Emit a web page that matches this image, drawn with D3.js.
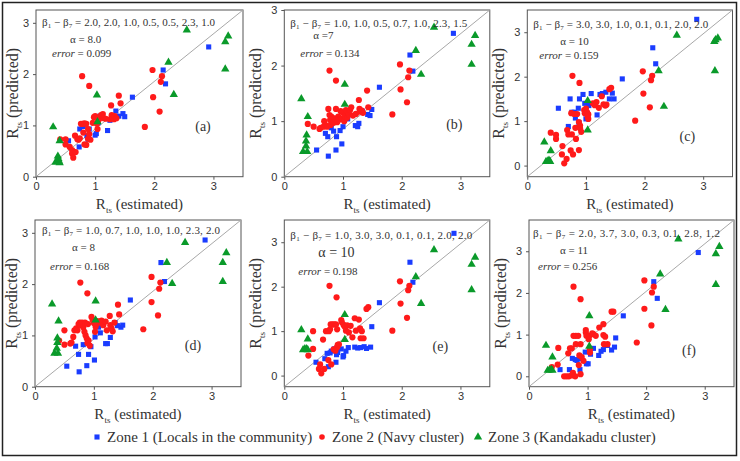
<!DOCTYPE html>
<html>
<head>
<meta charset="utf-8">
<script src="https://cdn.jsdelivr.net/npm/d3@7"></script>
<style>
  body { margin: 0; background: #fff; }
  svg text { fill: #333; }
</style>
</head>
<body>
<svg id="chart" width="740" height="461"></svg>
<script>
// ---- data: [R_ts estimated, R_ts predicted] for each zone and panel ----
var xTicks = [0, 1, 2, 3];
var zoneNames = ['Zone 1 (Locals in the community)', 'Zone 2 (Navy cluster)', 'Zone 3 (Kandakadu cluster)'];

var blueA = [[0.55,0.70],[0.73,0.58],[0.74,0.93],[0.80,0.98],[0.86,0.80],[0.88,0.73],[0.90,0.93],[1.00,0.81],[1.02,0.84],[1.05,1.05],[1.08,1.18],[1.21,0.90],[1.25,1.10],[1.35,1.28],[1.40,1.18],[1.47,1.23],[1.50,1.17],[1.63,1.55],[2.15,2.08],[2.19,1.81],[2.92,2.53]];
var redA = [[0.78,1.96],[0.90,1.77],[0.41,0.73],[0.50,0.73],[0.50,0.63],[0.57,0.58],[0.61,0.52],[0.61,0.45],[0.63,0.37],[0.67,0.48],[0.66,0.80],[0.70,0.73],[0.72,0.72],[0.74,0.75],[0.76,1.03],[0.79,1.03],[0.82,1.04],[0.85,1.03],[0.80,0.86],[0.82,0.63],[0.85,0.62],[0.88,0.93],[0.88,0.74],[0.90,0.83],[0.92,0.72],[0.96,1.05],[0.98,1.16],[1.00,1.18],[1.03,1.03],[1.04,0.93],[1.05,1.08],[1.08,1.14],[1.10,1.20],[1.13,1.22],[1.15,1.14],[1.18,1.13],[1.25,1.12],[1.27,1.39],[1.28,1.20],[1.30,1.15],[1.32,1.12],[1.33,1.18],[1.36,1.14],[1.40,1.58],[1.43,1.43],[1.84,0.97],[1.97,2.08],[1.98,1.55],[2.09,1.27],[2.11,1.85],[2.13,1.96]];
var greenA = [[0.29,0.97],[0.40,0.70],[0.37,0.40],[0.38,0.35],[0.33,0.28],[0.36,0.30],[0.39,0.30],[0.40,0.27],[1.03,1.59],[1.04,1.07],[2.24,2.23],[2.33,1.60],[2.55,2.86],[3.20,2.63],[3.20,2.10],[3.25,2.74]];

var blueB = [[0.55,0.48],[0.70,0.78],[0.74,0.72],[0.75,0.37],[0.80,0.88],[0.84,0.82],[0.88,0.48],[0.89,0.72],[0.95,0.83],[0.98,0.59],[1.00,0.90],[1.08,1.04],[1.21,0.92],[1.25,0.90],[1.27,0.96],[1.33,1.18],[1.42,1.12],[1.46,1.10],[1.49,1.21],[1.62,1.61],[2.14,2.19],[2.19,1.90],[2.88,2.58]];
var redB = [[0.77,1.91],[0.88,1.73],[0.40,0.95],[0.50,0.90],[0.60,0.86],[0.62,0.88],[0.67,0.90],[0.68,1.00],[0.70,0.93],[0.73,0.90],[0.75,1.22],[0.77,1.11],[0.78,1.02],[0.79,0.93],[0.80,1.08],[0.82,1.05],[0.84,0.97],[0.86,1.05],[0.88,1.22],[0.90,0.98],[0.92,1.08],[0.94,1.03],[0.96,1.18],[0.98,1.04],[1.00,1.15],[1.02,1.00],[1.03,1.09],[1.05,1.20],[1.07,1.06],[1.10,1.12],[1.12,1.20],[1.14,1.25],[1.17,1.10],[1.22,1.13],[1.27,1.38],[1.28,1.22],[1.30,1.17],[1.32,1.19],[1.34,1.15],[1.41,1.55],[1.43,1.25],[1.84,1.12],[1.97,2.02],[1.98,1.57],[2.09,1.34],[2.11,1.79],[2.13,1.91]];
var greenB = [[0.29,1.40],[0.40,1.08],[0.38,0.75],[0.37,0.64],[0.37,0.55],[0.32,0.45],[0.39,0.45],[1.03,1.66],[1.03,1.30],[2.24,2.27],[2.33,1.84],[2.55,2.69],[3.19,2.38],[3.19,2.02],[3.25,2.54]];

var blueC = [[0.53,1.29],[0.70,0.88],[0.73,1.50],[0.76,1.20],[0.80,1.20],[0.82,1.07],[0.87,1.29],[0.88,0.97],[0.89,1.50],[0.95,1.60],[0.98,1.40],[1.00,1.05],[1.05,1.35],[1.09,1.62],[1.19,1.14],[1.24,1.60],[1.28,1.62],[1.34,1.65],[1.40,1.50],[1.45,1.63],[1.48,1.50],[1.62,1.95],[2.14,2.65],[2.19,2.29],[2.89,3.29]];
var redC = [[0.77,2.02],[0.89,1.86],[0.40,0.74],[0.49,0.69],[0.49,0.60],[0.60,0.44],[0.59,0.25],[0.63,0.05],[0.67,0.15],[0.74,0.34],[0.78,0.25],[0.88,0.35],[0.83,0.60],[0.68,0.80],[0.70,0.70],[0.76,0.70],[0.75,1.18],[0.80,1.16],[0.82,0.85],[0.85,1.16],[0.88,0.98],[0.90,0.90],[0.90,0.84],[0.92,0.76],[0.97,1.25],[0.98,1.18],[1.00,1.28],[1.02,1.20],[1.03,1.10],[1.04,1.05],[1.04,1.15],[1.12,1.40],[1.15,1.36],[1.18,1.43],[1.22,1.30],[1.27,1.56],[1.30,1.38],[1.33,1.35],[1.35,1.37],[1.40,1.72],[1.43,1.75],[1.84,1.01],[1.97,2.12],[1.98,1.62],[2.09,1.31],[2.11,1.92],[2.13,2.02]];
var greenC = [[0.29,0.53],[0.40,0.33],[0.32,0.09],[0.35,0.10],[0.37,0.12],[0.39,0.09],[1.03,1.46],[1.03,0.80],[2.24,2.13],[2.33,1.33],[2.55,2.93],[3.19,2.79],[3.21,2.83],[3.25,2.87],[3.20,2.13]];

var blueD = [[0.54,0.40],[0.69,0.79],[0.74,0.63],[0.75,0.29],[0.82,0.82],[0.88,0.41],[0.91,0.63],[0.95,0.78],[1.01,0.52],[1.02,0.97],[1.08,1.16],[1.11,1.05],[1.20,0.84],[1.23,0.84],[1.28,0.96],[1.36,1.25],[1.40,1.19],[1.46,1.16],[1.49,1.20],[1.62,1.69],[2.14,2.42],[2.20,2.05],[2.89,2.86]];
var redD = [[0.77,2.03],[0.89,1.82],[0.41,0.90],[0.50,0.82],[0.50,1.10],[0.60,0.84],[0.62,0.86],[0.65,0.97],[0.67,1.10],[0.70,1.14],[0.72,1.10],[0.74,1.22],[0.76,1.25],[0.78,1.20],[0.80,1.25],[0.82,1.16],[0.84,1.07],[0.85,1.25],[0.86,1.00],[0.88,0.94],[0.89,0.85],[0.90,1.22],[0.91,0.90],[0.93,0.80],[0.96,1.36],[0.98,1.30],[1.00,1.24],[1.02,1.07],[1.03,1.17],[1.04,1.22],[1.06,1.28],[1.10,1.25],[1.13,1.29],[1.16,1.20],[1.20,1.27],[1.22,1.10],[1.27,1.38],[1.28,1.20],[1.30,1.14],[1.32,1.08],[1.35,1.25],[1.41,1.60],[1.43,1.41],[1.84,1.12],[1.98,2.14],[1.98,1.65],[2.09,1.39],[2.11,1.91],[2.13,2.03]];
var greenD = [[0.29,1.61],[0.40,1.28],[0.38,0.95],[0.38,0.86],[0.37,0.75],[0.33,0.65],[0.39,0.65],[1.03,1.67],[1.03,1.30],[2.24,2.42],[2.33,2.01],[2.55,2.81],[3.19,2.42],[3.19,2.05],[3.25,2.61]];

var blueE = [[0.54,0.30],[0.69,0.38],[0.73,0.50],[0.75,0.20],[0.78,0.51],[0.80,0.55],[0.85,0.60],[0.88,0.30],[0.89,0.47],[0.91,0.52],[0.97,0.60],[1.00,0.42],[1.01,0.45],[1.05,0.55],[1.09,0.63],[1.20,0.64],[1.25,0.62],[1.30,0.63],[1.36,0.65],[1.40,0.61],[1.47,0.64],[1.49,1.10],[1.62,1.64],[2.14,2.55],[2.19,2.10],[2.89,3.20]];
var redE = [[0.77,2.02],[0.89,1.76],[0.41,0.45],[0.49,0.60],[0.49,1.00],[0.59,0.15],[0.61,0.25],[0.63,0.05],[0.68,0.15],[0.66,0.81],[0.71,1.00],[0.75,0.35],[0.76,1.00],[0.78,1.04],[0.79,1.15],[0.80,0.25],[0.82,1.15],[0.84,0.59],[0.85,1.15],[0.87,0.56],[0.88,1.15],[0.90,0.64],[0.90,1.04],[0.91,0.69],[0.93,0.70],[0.97,1.25],[0.98,1.20],[1.01,1.14],[1.03,1.10],[1.05,1.01],[1.07,1.13],[1.10,0.97],[1.13,1.12],[1.16,0.86],[1.20,1.29],[1.22,1.01],[1.27,1.26],[1.29,1.06],[1.30,0.84],[1.32,1.00],[1.35,0.84],[1.40,1.50],[1.43,1.54],[1.84,1.01],[1.97,2.12],[1.98,1.62],[2.09,1.30],[2.11,1.92],[2.13,2.02]];
var greenE = [[0.29,1.03],[0.40,0.82],[0.32,0.58],[0.35,0.60],[0.38,0.60],[0.40,0.58],[1.03,1.37],[1.03,0.81],[2.24,2.22],[2.33,1.62],[2.55,2.83],[3.19,2.50],[3.19,1.93],[3.25,2.66]];

var blueF = [[0.53,0.16],[0.69,0.16],[0.74,0.43],[0.75,0.02],[0.79,0.40],[0.82,0.38],[0.87,0.16],[0.89,0.42],[0.96,0.58],[0.98,0.30],[1.01,0.30],[1.05,0.53],[1.10,0.67],[1.19,0.50],[1.23,0.60],[1.27,0.64],[1.34,0.74],[1.41,0.63],[1.46,0.70],[1.48,0.92],[1.61,1.45],[2.13,2.27],[2.19,1.87],[2.89,2.97]];
var redF = [[0.76,2.15],[0.88,1.85],[0.39,0.22],[0.49,0.28],[0.50,0.68],[0.60,0.00],[0.64,0.00],[0.68,0.00],[0.73,0.02],[0.75,0.08],[0.79,0.00],[0.88,0.05],[0.67,0.55],[0.70,0.67],[0.73,0.67],[0.76,0.97],[0.80,0.97],[0.84,0.97],[0.80,0.77],[0.88,0.77],[0.86,0.50],[0.90,0.46],[0.93,0.37],[0.85,0.27],[0.97,1.11],[0.97,1.05],[0.98,0.97],[1.03,0.97],[1.02,0.89],[1.04,0.65],[1.04,0.57],[1.08,1.03],[1.10,1.01],[1.14,0.97],[1.20,1.17],[1.27,1.25],[1.27,0.99],[1.30,0.95],[1.28,0.77],[1.34,0.77],[1.41,1.55],[1.44,1.55],[1.84,0.81],[1.97,2.30],[1.97,1.62],[2.09,1.22],[2.10,2.01],[2.13,2.15]];
var greenF = [[0.29,0.74],[0.40,0.46],[0.32,0.14],[0.35,0.15],[0.38,0.16],[0.40,0.14],[1.03,1.45],[1.03,0.72],[2.24,2.45],[2.33,1.60],[2.55,3.29],[3.19,2.94],[3.19,2.20],[3.25,3.11]];

var betas = ['2.0,  2.0,  1.0,  0.5,  0.5,  2.3,  1.0', '1.0,  1.0,  0.5,  0.7,  1.0,  2.3,  1.5', '3.0,  3.0,  1.0,  0.1,  0.1,  2.0,  2.0',
             '1.0,  0.7,  1.0,  1.0,  1.0,  2.3,  2.0', '1.0,  3.0,  3.0,  0.1,  0.1,  2.0,  2.0', '2.0,  3.7,  3.0,  0.3,  0.1,  2.8,  1.2'];
var alphas = ['= 8.0', '=7', '= 10', '= 8', '= 10', '= 11'];
var errors = ['0.099', '0.134', '0.159', '0.168', '0.198', '0.256'];

// ---- layout ----
var panels = [
  { label: '(a)', blue: blueA, red: redA, green: greenA, yDom: [0, 3.25], box: [36, 10, 243, 176.7],
    bPos: [6, 16, 173], aPos: [34, 33, 11], ePos: [16, 47], lPos: [167, 121], ylab: 23 },
  { label: '(b)', blue: blueB, red: redB, green: greenB, yDom: [0, 3], box: [284.3, 10, 489.8, 176.7],
    bPos: [6, 16.5, 177], aPos: [29, 29, 11], ePos: [16, 47], lPos: [170, 119], ylab: 28 },
  { label: '(c)', blue: blueC, red: redC, green: greenC, yDom: [-0.25, 3.5], box: [527.3, 10, 732.5, 176.7],
    bPos: [6, 17.5, 175], aPos: [33, 35, 11], ePos: [12, 49], lPos: [160, 131], ylab: 28 },
  { label: '(d)', blue: blueD, red: redD, green: greenD, yDom: [0, 3.25], box: [35, 220, 241, 386.7],
    bPos: [7, 14, 178], aPos: [37, 31, 11], ePos: [15, 50], lPos: [158, 130], ylab: 23 },
  { label: '(e)', blue: blueE, red: redE, green: greenE, yDom: [-0.25, 3.5], box: [284.3, 220, 489.8, 386.7],
    bPos: [6, 18.5, 182], aPos: [34, 37, 14], ePos: [14, 55], lPos: [156, 131], ylab: 28 },
  { label: '(f)', blue: blueF, red: redF, green: greenF, yDom: [-0.25, 3.75], box: [529, 220, 734, 386.7],
    bPos: [4, 17, 187], aPos: [31, 34, 11], ePos: [9, 50], lPos: [160, 135], ylab: 28 }
];

var colors = { blue: '#1a3cff', red: '#ff1a1a', green: '#0a9a2a' };
var serif = '"Liberation Serif", "Times New Roman", serif';
var sans = '"Liberation Sans", Arial, sans-serif';

var svg = d3.select('#chart');

// outer frame
svg.append('rect')
  .attr('x', 2.5).attr('y', 2.5)
  .attr('width', 734).attr('height', 453)
  .attr('fill', 'none').attr('stroke', '#222').attr('stroke-width', 1.5);

var squareSym = d3.symbol().type(d3.symbolSquare).size(26);
var triSym = d3.symbol().type(d3.symbolTriangle).size(30);

panels.forEach(function(p, i) {
  var x = d3.scaleLinear().domain([0, 3.5]).range([p.box[0], p.box[2]]);
  var y = d3.scaleLinear().domain(p.yDom).range([p.box[3], p.box[1]]);
  var g = svg.append('g');

  // frame
  g.append('rect')
    .attr('x', p.box[0]).attr('y', p.box[1])
    .attr('width', p.box[2] - p.box[0]).attr('height', p.box[3] - p.box[1])
    .attr('fill', 'none').attr('stroke', '#555').attr('stroke-width', 1);

  // diagonal corner to corner
  g.append('line')
    .attr('x1', x(0)).attr('y1', y(p.yDom[0]))
    .attr('x2', x(3.5)).attr('y2', y(p.yDom[1]))
    .attr('stroke', '#a8a8a8').attr('stroke-width', 1);

  // axes
  var xAxis = g.append('g')
    .attr('transform', 'translate(0,' + p.box[3] + ')')
    .call(d3.axisBottom(x).tickValues(xTicks).tickSize(3).tickPadding(3).tickFormat(d3.format('d')));
  var yAxis = g.append('g')
    .attr('transform', 'translate(' + p.box[0] + ',0)')
    .call(d3.axisLeft(y).tickValues([0, 1, 2, 3]).tickSize(3).tickPadding(4).tickFormat(d3.format('d')));
  [xAxis, yAxis].forEach(function(a) {
    a.select('.domain').remove();
    a.selectAll('line').attr('stroke', '#555');
    a.selectAll('text').attr('font-family', sans).attr('font-size', 11).attr('fill', '#333');
  });

  // points
  g.selectAll('.z1').data(p.blue).enter().append('path')
    .attr('d', squareSym)
    .attr('transform', function(d) { return 'translate(' + x(d[0]) + ',' + y(d[1]) + ')'; })
    .attr('fill', colors.blue);
  g.selectAll('.z2').data(p.red).enter().append('circle')
    .attr('cx', function(d) { return x(d[0]); })
    .attr('cy', function(d) { return y(d[1]); })
    .attr('r', 3.1)
    .attr('fill', colors.red);
  g.selectAll('.z3').data(p.green).enter().append('path')
    .attr('d', triSym)
    .attr('transform', function(d) { return 'translate(' + x(d[0]) + ',' + y(d[1]) + ')'; })
    .attr('fill', colors.green);

  // annotation: beta
  var bt = g.append('text')
    .attr('x', p.box[0] + p.bPos[0]).attr('y', p.box[1] + p.bPos[1])
    .attr('font-family', serif).attr('font-size', 11)
    .attr('textLength', p.bPos[2]).attr('lengthAdjust', 'spacing');
  bt.append('tspan').text('β');
  bt.append('tspan').attr('dy', 2).attr('font-size', 7).text('1');
  bt.append('tspan').attr('dy', -2).text(' − β');
  bt.append('tspan').attr('dy', 2).attr('font-size', 7).text('7');
  bt.append('tspan').attr('dy', -2).text(' = ' + betas[i]);

  // alpha
  g.append('text')
    .attr('x', p.box[0] + p.aPos[0]).attr('y', p.box[1] + p.aPos[1])
    .attr('font-family', serif).attr('font-size', p.aPos[2])
    .text('α ' + alphas[i]);

  // error
  var et = g.append('text')
    .attr('x', p.box[0] + p.ePos[0]).attr('y', p.box[1] + p.ePos[1])
    .attr('font-family', serif).attr('font-size', 11);
  et.append('tspan').attr('font-style', 'italic').text('error');
  et.append('tspan').text(' = ' + errors[i]);

  // panel label
  g.append('text')
    .attr('x', p.box[0] + p.lPos[0]).attr('y', p.box[1] + p.lPos[1])
    .attr('text-anchor', 'middle')
    .attr('font-family', serif).attr('font-size', 14)
    .text(p.label);

  // axis titles
  var xt = g.append('text')
    .attr('x', (p.box[0] + p.box[2]) / 2).attr('y', p.box[3] + 32)
    .attr('text-anchor', 'middle')
    .attr('font-family', serif).attr('font-size', 15);
  xt.append('tspan').text('R');
  xt.append('tspan').attr('dy', 4).attr('font-size', 9).text('ts');
  xt.append('tspan').attr('dy', -4).text(' (estimated)');

  var cy = (p.box[1] + p.box[3]) / 2;
  var yt = g.append('text')
    .attr('transform', 'translate(' + (p.box[0] - p.ylab + 5) + ',' + cy + ') rotate(-90)')
    .attr('text-anchor', 'middle')
    .attr('font-family', serif).attr('font-size', 16);
  yt.append('tspan').text('R');
  yt.append('tspan').attr('dy', 4).attr('font-size', 9).text('ts');
  yt.append('tspan').attr('dy', -4).text(' (predicted)');
});

// legend
var legend = svg.append('g').attr('font-family', serif).attr('font-size', 15);
var legX = [97, 322, 478];
var legSym = [squareSym, null, triSym];
var legCol = [colors.blue, colors.red, colors.green];
zoneNames.forEach(function(name, i) {
  if (i === 1) {
    legend.append('circle').attr('cx', legX[i]).attr('cy', 437).attr('r', 2.8).attr('fill', legCol[i]);
  } else {
    legend.append('path').attr('d', legSym[i])
      .attr('transform', 'translate(' + legX[i] + ',437)').attr('fill', legCol[i]);
  }
  legend.append('text').attr('x', legX[i] + 10).attr('y', 442).text(name);
});
</script>
</body>
</html>
